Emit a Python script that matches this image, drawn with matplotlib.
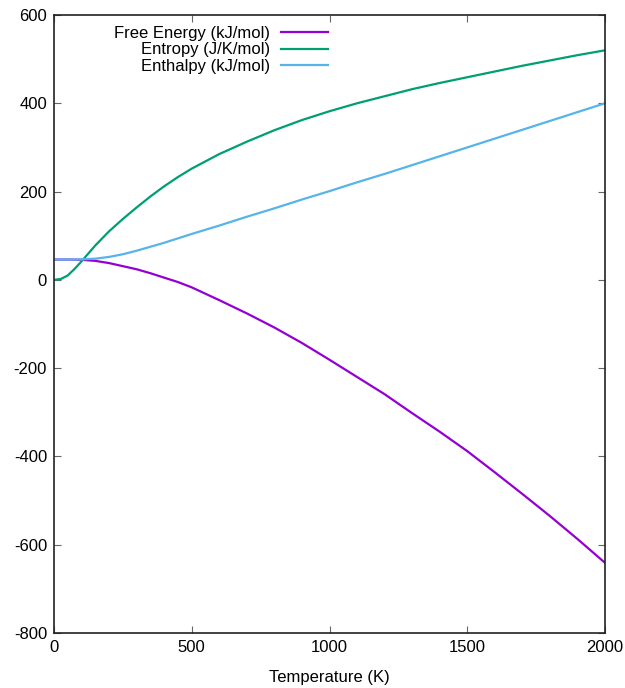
import matplotlib
matplotlib.use("Agg")
import matplotlib.pyplot as plt

plt.rcParams['font.family'] = ['Liberation Sans', 'DejaVu Sans']
plt.rcParams['axes.unicode_minus'] = False

# thermodynamic functions vs temperature
temperature = [0, 25, 50, 75, 100, 150, 200, 250, 300, 350, 400, 450, 500, 600, 700, 800,
               900, 1000, 1100, 1200, 1300, 1400, 1500, 1600, 1700, 1800, 1900, 2000]
free_energy = [46, 46, 46, 45.8, 45.5, 43, 38, 31, 24, 15, 5, -5, -17, -46, -76, -108,
               -143, -181, -220, -259, -302, -344, -388, -436, -485, -535, -587, -641]
entropy = [0, 2, 10, 25, 42, 78, 110, 138, 164, 189, 212, 233, 252, 285, 313, 339,
           362, 382, 400, 416, 432, 446, 459, 472, 485, 497, 509, 520]
enthalpy = [46, 46, 46, 46, 46.5, 48, 52, 58, 66, 75, 84, 94, 104, 123, 143, 162,
            182, 201, 221, 240, 260, 280, 300, 320, 340, 360, 380, 400]

fig = plt.figure(figsize=(6.25, 6.88), dpi=100)
ax = fig.add_axes([54/625, 55/688, 551/625, 618/688])

ax.plot(temperature, free_energy, color='#9400d3', lw=1.6, label='Free Energy (kJ/mol)')
ax.plot(temperature, entropy, color='#009e73', lw=1.6, label='Entropy (J/K/mol)')
ax.plot(temperature, enthalpy, color='#56b4e9', lw=1.6, label='Enthalpy (kJ/mol)')

ax.set_xlim(0, 2000)
ax.set_ylim(-800, 600)
ax.set_xticks([0, 500, 1000, 1500, 2000])
ax.set_yticks(range(-800, 601, 200))
ax.tick_params(direction='in', top=True, right=True, length=5, width=0.8,
               color='#666666', labelsize=12, pad=5)
for s in ax.spines.values():
    s.set_linewidth(1.2)
    s.set_color('#222222')

ax.set_xlabel('Temperature (K)', fontsize=12, labelpad=11)

ax.legend(loc='upper right', bbox_to_anchor=(328/625, 1 - 26/688),
          bbox_transform=fig.transFigure, frameon=False, markerfirst=False,
          fontsize=12, handlelength=2.8, handletextpad=0.7,
          labelspacing=0.08, borderpad=0, borderaxespad=0)

fig.savefig('out.png', dpi=100)
